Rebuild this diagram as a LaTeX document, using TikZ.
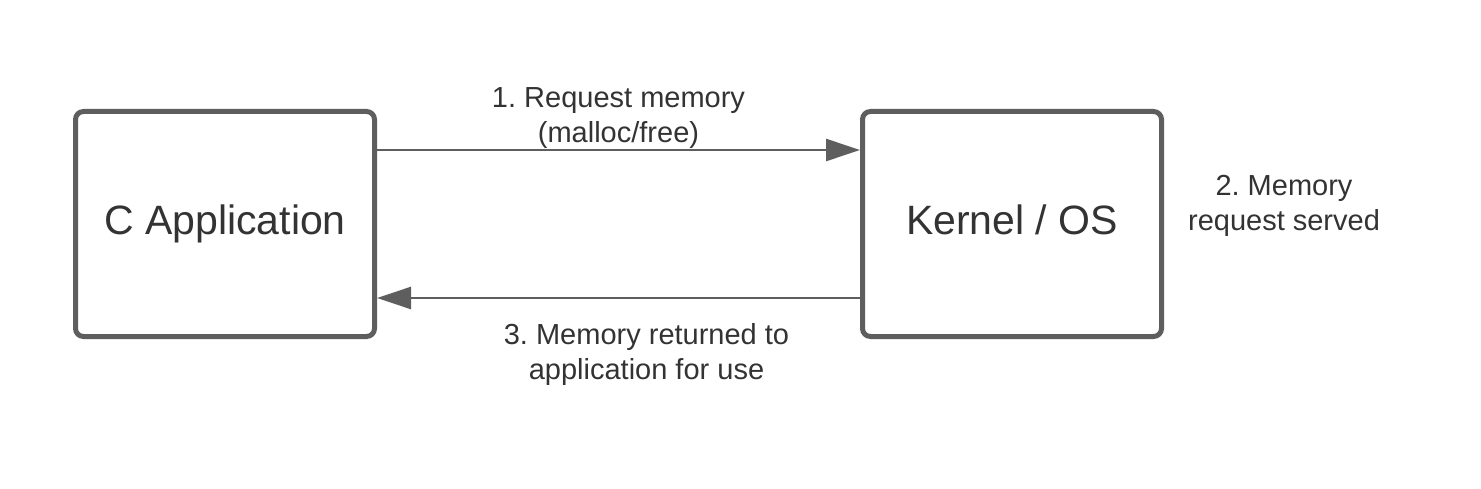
\documentclass[tikz,border=0pt]{standalone}
\usepackage{fontspec}
\setmainfont{Liberation Sans}
\usetikzlibrary{arrows.meta}
\definecolor{linegray}{HTML}{5E5E5E}
\definecolor{textgray}{HTML}{333333}
\frenchspacing
\tikzset{
  box/.style={draw=linegray, line width=5pt, rounded corners=8pt, fill=white,
    minimum width=299pt, minimum height=225pt, inner sep=0pt,
    text height=30pt, text depth=9pt,
    text=textgray, font=\fontsize{41}{48}\selectfont},
  arr/.style={draw=linegray, line width=2.5pt, -{Triangle[length=34pt,width=22pt]}},
  lbl/.style={text=textgray, align=center, inner sep=0pt,
    font=\fontsize{29}{35}\selectfont}
}
\begin{document}
\begin{tikzpicture}[x=1pt,y=1pt]
\useasboundingbox[fill=white] (0,0) rectangle (1481,488);
\node[box] (a) at (225,264) {C Application};
\node[box] (b) at (1012,264) {Kernel / OS};
\draw[arr] (a.east |- 0,338) -- (b.west |- 0,338);
\draw[arr] (b.west |- 0,190) -- (a.east |- 0,190);
\node[lbl] (l1) at (618.5,370) {1. Request memory\\(malloc/free)};
\node[lbl] (l2) at (1284,282) {2. Memory\\request served};
\node[lbl] (l3) at (646.5,133) {3. Memory returned to\\application for use};
\end{tikzpicture}
\end{document}
